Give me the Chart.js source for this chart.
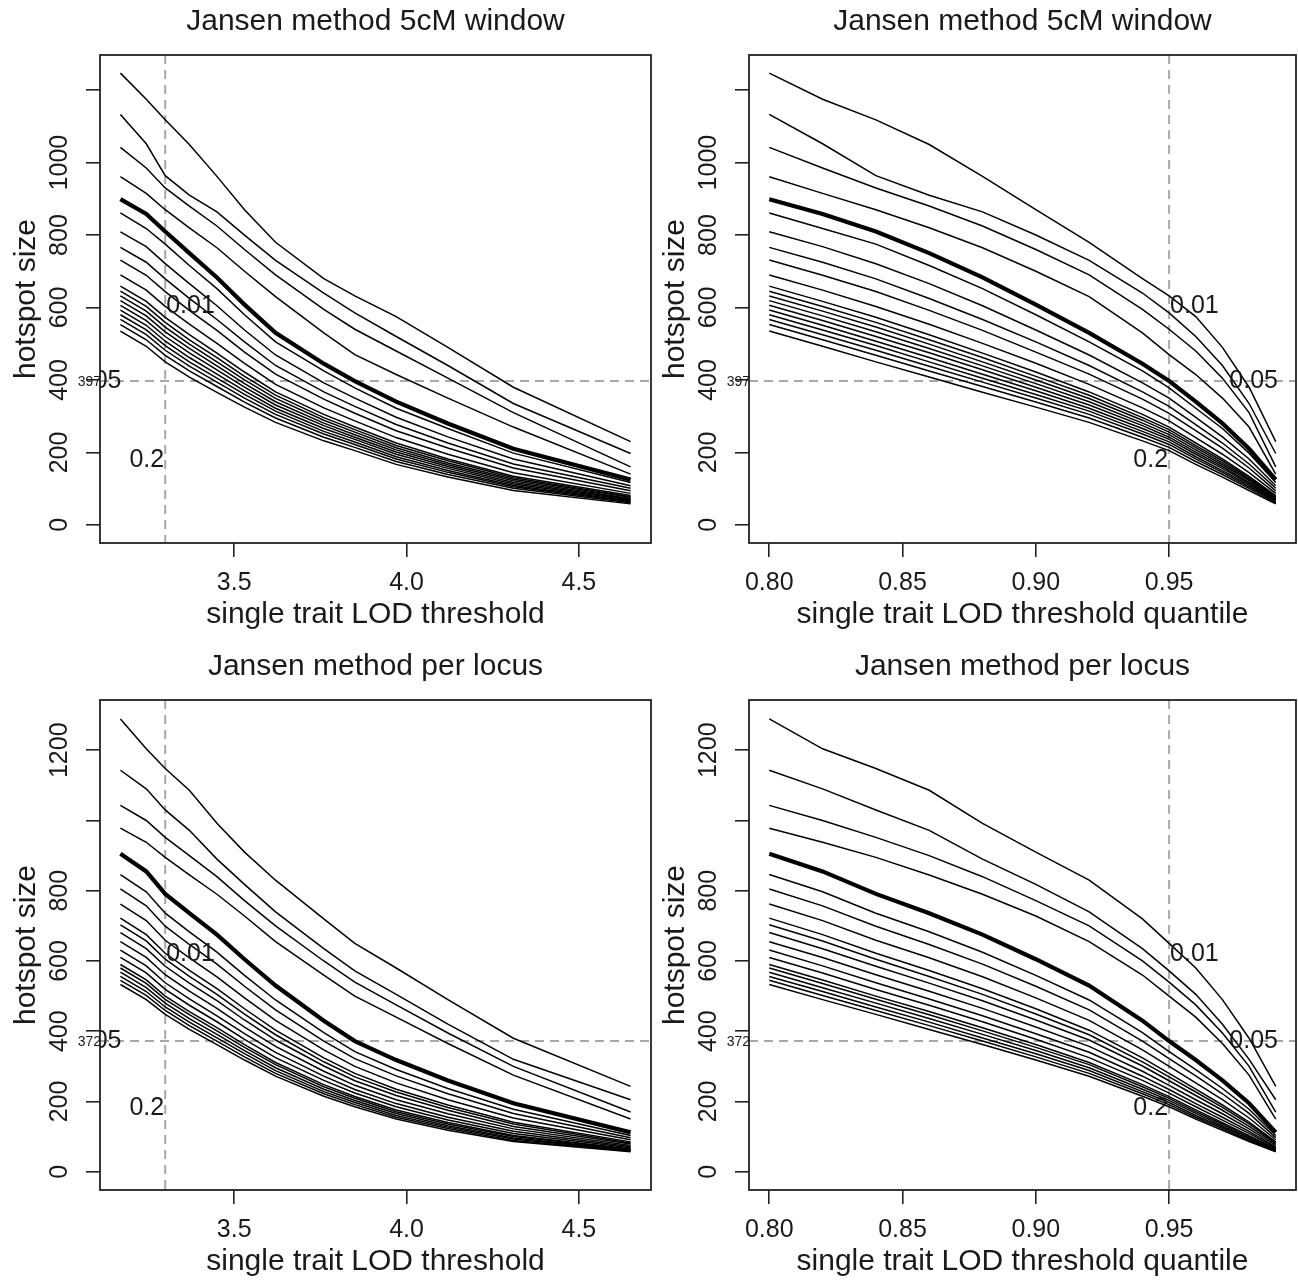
<!DOCTYPE html>
<html>
<head>
<meta charset="utf-8">
<script src="https://cdn.jsdelivr.net/npm/chart.js@4.4.1/dist/chart.umd.min.js"></script>
<style>
  body { margin: 0; background: #fff; width: 1298px; height: 1281px; position: relative; overflow: hidden; }
  canvas { position: absolute; }
</style>
</head>
<body>
<canvas id="p1"></canvas>
<canvas id="p2"></canvas>
<canvas id="p3"></canvas>
<canvas id="p4"></canvas>
<script>
// x positions: quantile of single trait LOD and the matching LOD threshold
const quantiles = [0.80, 0.82, 0.84, 0.86, 0.88, 0.90, 0.92, 0.94, 0.95, 0.96, 0.97, 0.98, 0.99];
const lodThresholds = [3.17, 3.245, 3.30, 3.37, 3.45, 3.53, 3.62, 3.76, 3.85, 3.97, 4.12, 4.31, 4.65];

// one line per hotspot size quantile (0.01 ... 0.20), 0.05 drawn thick
const levels = ["0.01", "0.02", "0.03", "0.04", "0.05", "0.06", "0.07", "0.08", "0.09", "0.10",
                "0.11", "0.12", "0.13", "0.14", "0.15", "0.16", "0.17", "0.18", "0.19", "0.20"];

const windowHotspots = [
  [1247, 1175, 1118, 1050, 962, 870, 780, 680, 632, 575, 490, 380, 230],
  [1133, 1052, 964, 910, 864, 800, 730, 640, 585, 520, 440, 335, 197],
  [1042, 985, 930, 880, 825, 760, 690, 595, 540, 480, 405, 310, 160],
  [961, 915, 870, 820, 765, 700, 630, 530, 470, 415, 350, 270, 140],
  [899, 858, 810, 750, 683, 608, 530, 445, 397, 340, 280, 210, 125],
  [861, 818, 775, 716, 652, 580, 505, 425, 378, 322, 266, 198, 117],
  [809, 768, 721, 666, 605, 538, 469, 392, 350, 297, 243, 182, 108],
  [766, 725, 679, 625, 567, 505, 440, 367, 327, 277, 226, 168, 101],
  [731, 689, 644, 592, 537, 477, 416, 347, 308, 260, 212, 157, 94],
  [690, 648, 603, 554, 501, 446, 388, 323, 287, 241, 195, 144, 87],
  [659, 617, 573, 525, 474, 422, 367, 305, 270, 226, 182, 134, 81],
  [645, 603, 559, 511, 462, 410, 358, 296, 263, 219, 177, 130, 78],
  [632, 590, 546, 499, 450, 400, 349, 289, 256, 213, 171, 126, 76],
  [619, 577, 533, 487, 439, 390, 340, 281, 249, 207, 166, 122, 73],
  [606, 564, 520, 475, 428, 380, 331, 274, 242, 201, 161, 117, 71],
  [593, 551, 507, 462, 416, 370, 322, 266, 236, 195, 156, 113, 69],
  [580, 538, 495, 450, 405, 360, 314, 258, 229, 188, 150, 109, 66],
  [567, 525, 482, 438, 394, 350, 305, 251, 222, 182, 145, 105, 64],
  [553, 511, 468, 425, 382, 339, 295, 242, 214, 175, 139, 101, 61],
  [535, 493, 450, 408, 366, 325, 283, 232, 205, 167, 132, 95, 58]
];

const locusHotspots = [
  [1289, 1204, 1148, 1086, 992, 910, 830, 720, 650, 580, 490, 380, 243],
  [1143, 1090, 1030, 972, 890, 818, 740, 635, 572, 505, 420, 320, 205],
  [1043, 1000, 952, 900, 840, 772, 700, 600, 540, 475, 395, 300, 170],
  [978, 938, 895, 845, 790, 728, 655, 560, 500, 440, 365, 275, 150],
  [905, 855, 791, 736, 675, 605, 530, 430, 372, 318, 260, 195, 112],
  [846, 797, 736, 683, 625, 559, 489, 396, 342, 291, 237, 178, 103],
  [805, 757, 699, 647, 591, 528, 461, 372, 322, 273, 222, 166, 97],
  [762, 715, 659, 609, 555, 495, 431, 347, 300, 253, 205, 153, 91],
  [722, 675, 622, 573, 521, 464, 403, 324, 280, 235, 190, 141, 85],
  [703, 657, 605, 556, 505, 449, 390, 313, 270, 227, 183, 136, 82],
  [681, 635, 585, 537, 487, 432, 375, 301, 259, 217, 175, 129, 79],
  [655, 610, 561, 514, 465, 412, 357, 286, 246, 205, 165, 122, 75],
  [631, 586, 538, 492, 444, 393, 340, 272, 234, 194, 155, 115, 71],
  [610, 566, 519, 474, 427, 377, 325, 260, 224, 185, 147, 109, 68],
  [590, 546, 500, 456, 410, 362, 311, 248, 214, 176, 140, 103, 65],
  [580, 536, 491, 447, 401, 354, 305, 242, 209, 171, 136, 100, 64],
  [568, 524, 480, 436, 391, 345, 296, 235, 203, 166, 131, 96, 62],
  [556, 513, 469, 426, 381, 336, 288, 228, 197, 160, 127, 93, 60],
  [545, 502, 459, 416, 372, 327, 280, 222, 191, 155, 123, 89, 59],
  [533, 490, 448, 405, 362, 318, 272, 215, 185, 150, 118, 86, 57]
];

const lodTicks = [3.5, 4.0, 4.5];
const quantileTicks = [0.80, 0.85, 0.90, 0.95];
const sizeTicks = [0, 200, 400, 600, 800, 1000, 1200];
const windowSizeLabels = ["0", "200", "400", "600", "800", "1000", ""];
const locusSizeLabels = ["0", "200", "400", "600", "800", "", "1200"];

const FONT = '"Liberation Sans", Arial, Helvetica, sans-serif';
const INK = "#1a1a1a";

// R-style frame: box, rotated y labels, titles, dashed guides, in-plot labels
const rFrame = {
  id: "rFrame",
  beforeDatasetsDraw(chart, args, o) {
    const { ctx, chartArea: a, scales: { x, y } } = chart;
    ctx.save();
    ctx.beginPath();
    ctx.rect(a.left, a.top, a.right - a.left, a.bottom - a.top);
    ctx.clip();
    ctx.strokeStyle = "#a8a8a8";
    ctx.lineWidth = 2;
    ctx.setLineDash([9, 6]);
    const vx = x.getPixelForValue(o.vline);
    const hy = y.getPixelForValue(o.hline);
    ctx.beginPath();
    ctx.moveTo(vx, a.top);
    ctx.lineTo(vx, a.bottom);
    ctx.moveTo(a.left, hy);
    ctx.lineTo(a.right, hy);
    ctx.stroke();
    ctx.restore();
  },
  afterDraw(chart, args, o) {
    const { ctx, chartArea: a, scales: { x, y } } = chart;
    ctx.save();
    ctx.strokeStyle = "#222";
    ctx.lineWidth = 1.8;
    ctx.strokeRect(a.left, a.top, a.right - a.left, a.bottom - a.top);

    ctx.fillStyle = INK;
    const cx = (a.left + a.right) / 2;

    // title and axis titles
    ctx.font = `30px ${FONT}`;
    ctx.textAlign = "center";
    ctx.textBaseline = "middle";
    ctx.fillText(o.title, cx, a.top - 33);
    ctx.fillText(o.xTitle, cx, a.bottom + 72);
    ctx.save();
    ctx.translate(a.left - 73, (a.top + a.bottom) / 2);
    ctx.rotate(-Math.PI / 2);
    ctx.fillText("hotspot size", 0, 0);
    ctx.restore();

    // tick labels
    ctx.font = `25px ${FONT}`;
    o.xTicks.forEach(v => {
      ctx.fillText(o.xFmt(v), x.getPixelForValue(v), a.bottom + 40);
    });
    o.yTicks.forEach((v, i) => {
      if (!o.yLabels[i]) return;
      ctx.save();
      ctx.translate(a.left - 40, y.getPixelForValue(v));
      ctx.rotate(-Math.PI / 2);
      ctx.fillText(o.yLabels[i], 0, 0);
      ctx.restore();
    });

    // small threshold value next to the axis
    ctx.font = `14px ${FONT}`;
    ctx.textAlign = "right";
    ctx.fillText(String(o.hline), a.left + 1, y.getPixelForValue(o.hline) + 1);

    // level labels, clipped to plot region
    ctx.beginPath();
    ctx.rect(a.left, a.top, a.right - a.left, a.bottom - a.top);
    ctx.clip();
    ctx.font = `25px ${FONT}`;
    o.notes.forEach(n => {
      ctx.textAlign = n.align;
      ctx.fillText(n.text, x.getPixelForValue(n.x) + (n.align === "left" ? 1 : -1), y.getPixelForValue(n.y));
    });
    ctx.restore();
  }
};

function makePanel(id, box, xs, rows, xRange, yRange, frame) {
  const canvas = document.getElementById(id);
  canvas.width = box.w;
  canvas.height = box.h;
  canvas.style.left = box.left + "px";
  canvas.style.top = box.top + "px";
  canvas.style.width = box.w + "px";
  canvas.style.height = box.h + "px";

  const datasets = rows.map((row, i) => ({
    label: levels[i],
    data: xs.map((xv, j) => ({ x: xv, y: row[j] })),
    borderColor: "#000",
    borderWidth: levels[i] === "0.05" ? 4.2 : 1.5,
    pointRadius: 0,
    tension: 0,
    fill: false
  }));

  const fixedTicks = list => scale => { scale.ticks = list.map(v => ({ value: v })); };

  return new Chart(canvas, {
    type: "line",
    data: { datasets },
    options: {
      responsive: false,
      animation: false,
      events: [],
      layout: {
        padding: {
          left: box.areaLeft - box.left - 20,
          right: box.left + box.w - box.areaRight,
          top: box.areaTop - box.top,
          bottom: box.top + box.h - box.areaBottom - 20
        }
      },
      plugins: { legend: { display: false }, tooltip: { enabled: false }, rFrame: frame },
      scales: {
        x: {
          type: "linear",
          min: xRange[0],
          max: xRange[1],
          afterBuildTicks: fixedTicks(frame.xTicks),
          afterFit: s => { s.height = 20; },
          ticks: { display: false },
          border: { display: false },
          grid: { drawOnChartArea: false, drawTicks: true, tickLength: 14, color: "#222", lineWidth: 1.6 }
        },
        y: {
          type: "linear",
          min: yRange[0],
          max: yRange[1],
          afterBuildTicks: fixedTicks(frame.yTicks),
          afterFit: s => { s.width = 20; },
          ticks: { display: false },
          border: { display: false },
          grid: { drawOnChartArea: false, drawTicks: true, tickLength: 14, color: "#222", lineWidth: 1.6 }
        }
      }
    },
    plugins: [rFrame]
  });
}

const lodFmt = v => v.toFixed(1);
const qFmt = v => v.toFixed(2);
const lodRange = [3.1108, 4.7092];
const qRange = [0.7924, 0.9976];

makePanel("p1", { left: 0, top: 0, w: 660, h: 645, areaLeft: 100, areaRight: 651, areaTop: 55, areaBottom: 543 },
  lodThresholds, windowHotspots, lodRange, [-50, 1297], {
    title: "Jansen method 5cM window", xTitle: "single trait LOD threshold",
    xTicks: lodTicks, xFmt: lodFmt, yTicks: sizeTicks, yLabels: windowSizeLabels,
    vline: 3.3, hline: 397,
    notes: [
      { text: "0.01", x: 3.3, y: 605, align: "left" },
      { text: "0.05", x: 3.176, y: 397, align: "right" },
      { text: "0.2", x: 3.3, y: 180, align: "right" }
    ]
  });

makePanel("p2", { left: 649, top: 0, w: 649, h: 645, areaLeft: 749, areaRight: 1296, areaTop: 55, areaBottom: 543 },
  quantiles, windowHotspots, qRange, [-50, 1297], {
    title: "Jansen method 5cM window", xTitle: "single trait LOD threshold quantile",
    xTicks: quantileTicks, xFmt: qFmt, yTicks: sizeTicks, yLabels: windowSizeLabels,
    vline: 0.95, hline: 397,
    notes: [
      { text: "0.01", x: 0.95, y: 605, align: "left" },
      { text: "0.05", x: 0.9722, y: 397, align: "left" },
      { text: "0.2", x: 0.95, y: 180, align: "right" }
    ]
  });

makePanel("p3", { left: 0, top: 640, w: 660, h: 641, areaLeft: 100, areaRight: 651, areaTop: 700, areaBottom: 1190 },
  lodThresholds, locusHotspots, lodRange, [-52, 1343], {
    title: "Jansen method per locus", xTitle: "single trait LOD threshold",
    xTicks: lodTicks, xFmt: lodFmt, yTicks: sizeTicks, yLabels: locusSizeLabels,
    vline: 3.3, hline: 372,
    notes: [
      { text: "0.01", x: 3.3, y: 620, align: "left" },
      { text: "0.05", x: 3.176, y: 372, align: "right" },
      { text: "0.2", x: 3.3, y: 180, align: "right" }
    ]
  });

makePanel("p4", { left: 649, top: 640, w: 649, h: 641, areaLeft: 749, areaRight: 1296, areaTop: 700, areaBottom: 1190 },
  quantiles, locusHotspots, qRange, [-52, 1343], {
    title: "Jansen method per locus", xTitle: "single trait LOD threshold quantile",
    xTicks: quantileTicks, xFmt: qFmt, yTicks: sizeTicks, yLabels: locusSizeLabels,
    vline: 0.95, hline: 372,
    notes: [
      { text: "0.01", x: 0.95, y: 620, align: "left" },
      { text: "0.05", x: 0.9722, y: 372, align: "left" },
      { text: "0.2", x: 0.95, y: 180, align: "right" }
    ]
  });
</script>
</body>
</html>
